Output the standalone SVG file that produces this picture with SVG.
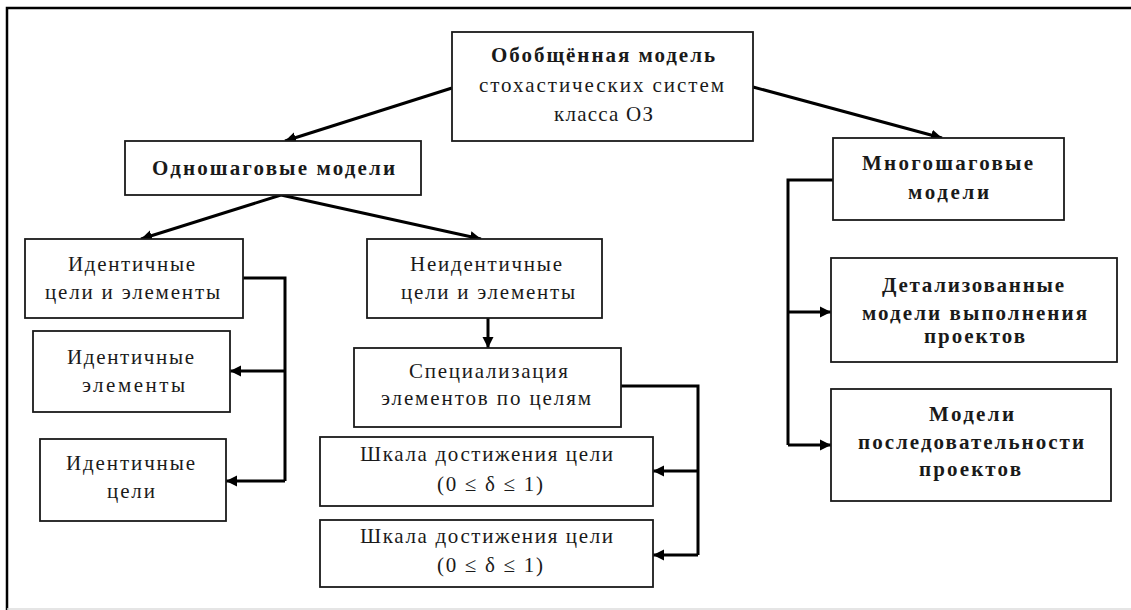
<svg xmlns="http://www.w3.org/2000/svg" width="1131" height="610" viewBox="0 0 1131 610">
<style>
.box{fill:#fff;stroke:#1a1a1a;stroke-width:1.8}
.t{font-family:"Liberation Serif","Times New Roman",serif;font-size:21px;fill:#1a1a1a}
.b{font-weight:bold}
.c{fill:none;stroke:#000;stroke-width:3}
.frame{fill:none;stroke:#000;stroke-width:2.5}
</style>
<defs>
<marker id="ah" markerUnits="userSpaceOnUse" markerWidth="12" markerHeight="12" refX="11" refY="6" orient="auto">
<path d="M0,0.5 L11,6 L0,11.5 z" fill="#000"/>
</marker>
</defs>
<rect width="1131" height="610" fill="#fff"/>
<path class="frame" d="M7,610 V8 H1131"/>
<line x1="7" y1="609" x2="1131" y2="609" stroke="#ddd" stroke-width="1.5"/>

<g id="connectors">
<line class="c" x1="452" y1="88" x2="285" y2="141" marker-end="url(#ah)"/>
<line class="c" x1="753" y1="87" x2="942" y2="138" marker-end="url(#ah)"/>
<line class="c" x1="281" y1="195" x2="141" y2="239" marker-end="url(#ah)"/>
<line class="c" x1="281" y1="195" x2="481" y2="239" marker-end="url(#ah)"/>
<path class="c" d="M243,278 H285 V481"/>
<line class="c" x1="285" y1="371" x2="230" y2="371" marker-end="url(#ah)"/>
<line class="c" x1="285" y1="481" x2="226" y2="481" marker-end="url(#ah)"/>
<line class="c" x1="488" y1="318" x2="488" y2="348" marker-end="url(#ah)"/>
<path class="c" d="M621,386 H698 V555"/>
<line class="c" x1="698" y1="471" x2="653" y2="471" marker-end="url(#ah)"/>
<line class="c" x1="698" y1="555" x2="653" y2="555" marker-end="url(#ah)"/>
<path class="c" d="M833,180 H788 V445"/>
<line class="c" x1="788" y1="312" x2="831" y2="312" marker-end="url(#ah)"/>
<line class="c" x1="788" y1="445" x2="831" y2="445" marker-end="url(#ah)"/>
</g>

<g id="root">
<rect class="box" x="452" y="32" width="301" height="109"/>
<text class="t b" x="491" y="62" textLength="224" lengthAdjust="spacing">Обобщённая модель</text>
<text class="t" x="479" y="92" textLength="245" lengthAdjust="spacing">стохастических  систем</text>
<text class="t" x="554" y="121" textLength="99" lengthAdjust="spacing">класса ОЗ</text>
</g>

<g id="one-step">
<rect class="box" x="125" y="141" width="296" height="54"/>
<text class="t b" x="152" y="175" textLength="243" lengthAdjust="spacing">Одношаговые модели</text>
</g>

<g id="ident-goals-elements">
<rect class="box" x="25" y="239" width="218" height="79"/>
<text class="t" x="68" y="271" textLength="127" lengthAdjust="spacing">Идентичные</text>
<text class="t" x="45" y="299" textLength="175" lengthAdjust="spacing">цели и элементы</text>
</g>

<g id="nonident-goals-elements">
<rect class="box" x="367" y="239" width="235" height="79"/>
<text class="t" x="410" y="271" textLength="152" lengthAdjust="spacing">Неидентичные</text>
<text class="t" x="401" y="299" textLength="174" lengthAdjust="spacing">цели и элементы</text>
</g>

<g id="ident-elements">
<rect class="box" x="33" y="331" width="197" height="81"/>
<text class="t" x="67" y="364" textLength="127" lengthAdjust="spacing">Идентичные</text>
<text class="t" x="82" y="392" textLength="103" lengthAdjust="spacing">элементы</text>
</g>

<g id="ident-goals">
<rect class="box" x="40" y="439" width="186" height="82"/>
<text class="t" x="66" y="470" textLength="129" lengthAdjust="spacing">Идентичные</text>
<text class="t" x="107" y="498" textLength="48" lengthAdjust="spacing">цели</text>
</g>

<g id="specialization">
<rect class="box" x="354" y="348" width="267" height="79"/>
<text class="t" x="409" y="378" textLength="159" lengthAdjust="spacing">Специализация</text>
<text class="t" x="381" y="405" textLength="210" lengthAdjust="spacing">элементов по целям</text>
</g>

<g id="scale-1">
<rect class="box" x="320" y="437" width="333" height="69"/>
<text class="t" x="360" y="461" textLength="253" lengthAdjust="spacing">Шкала достижения цели</text>
<text class="t" x="437" y="491" textLength="106" lengthAdjust="spacing">(0 ≤ δ ≤ 1)</text>
</g>

<g id="scale-2">
<rect class="box" x="320" y="520" width="333" height="67"/>
<text class="t" x="360" y="543" textLength="253" lengthAdjust="spacing">Шкала достижения цели</text>
<text class="t" x="437" y="572" textLength="106" lengthAdjust="spacing">(0 ≤ δ ≤ 1)</text>
</g>

<g id="multi-step">
<rect class="box" x="833" y="138" width="231" height="82"/>
<text class="t b" x="862" y="170" textLength="171" lengthAdjust="spacing">Многошаговые</text>
<text class="t b" x="908" y="199" textLength="81" lengthAdjust="spacing">модели</text>
</g>

<g id="detailed">
<rect class="box" x="831" y="258" width="286" height="104"/>
<text class="t b" x="882" y="292" textLength="182" lengthAdjust="spacing">Детализованные</text>
<text class="t b" x="862" y="320" textLength="225" lengthAdjust="spacing">модели выполнения</text>
<text class="t b" x="924" y="343" textLength="101" lengthAdjust="spacing">проектов</text>
</g>

<g id="sequence">
<rect class="box" x="831" y="389" width="280" height="112"/>
<text class="t b" x="929" y="421" textLength="85" lengthAdjust="spacing">Модели</text>
<text class="t b" x="858" y="449" textLength="226" lengthAdjust="spacing">последовательности</text>
<text class="t b" x="919" y="476" textLength="102" lengthAdjust="spacing">проектов</text>
</g>
</svg>
